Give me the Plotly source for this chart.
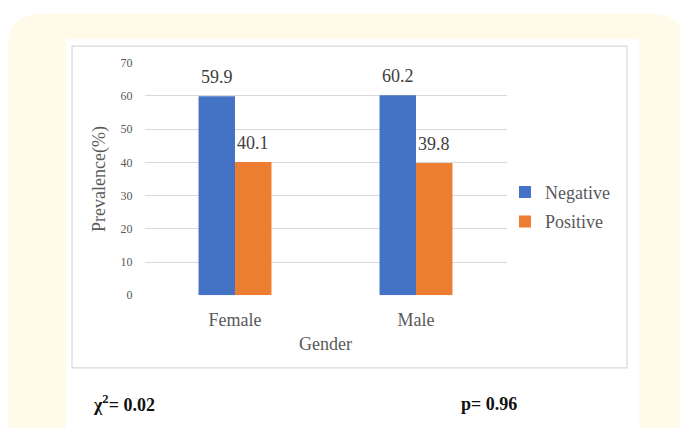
import plotly.graph_objects as go

# Prevalence (%) by gender and test result
genders = ["Female", "Male"]
negative = [59.9, 60.2]
positive = [40.1, 39.8]
series_names = ["Negative", "Positive"]
series_colors = ["#4472C4", "#ED7D31"]
y_ticks = [0, 10, 20, 30, 40, 50, 60, 70]
chi_text = "χ<sup>2</sup>= 0.02"
p_text = "p= 0.96"

W, H = 680, 428
FONT = "Liberation Serif"
GREY = "#595959"


def px(x):
    return x / W


def py(y):
    return 1 - y / H


def rounded_rect(x0, y0, x1, y1, r):
    """SVG path (paper coords) of a rectangle with rounded corners, from pixel coords."""
    pts = [
        f"M{px(x0 + r)},{py(y0)}",
        f"L{px(x1 - r)},{py(y0)}",
        f"Q{px(x1)},{py(y0)} {px(x1)},{py(y0 + r)}",
        f"L{px(x1)},{py(y1 - r)}",
        f"Q{px(x1)},{py(y1)} {px(x1 - r)},{py(y1)}",
        f"L{px(x0 + r)},{py(y1)}",
        f"Q{px(x0)},{py(y1)} {px(x0)},{py(y1 - r)}",
        f"L{px(x0)},{py(y0 + r)}",
        f"Q{px(x0)},{py(y0)} {px(x0 + r)},{py(y0)}",
        "Z",
    ]
    return " ".join(pts)


# plot-area geometry (pixels)
plot_l, plot_r = 144.5, 506.5
plot_t, plot_b = 57.5, 298.0
bargap = 0.597
cat_px = (plot_r - plot_l) / len(genders)
bar_px = cat_px * (1 - bargap) / 2

fig = go.Figure()
for name, vals, col in zip(series_names, [negative, positive], series_colors):
    fig.add_trace(go.Bar(
        x=genders, y=vals, name=name, marker=dict(color=col, line=dict(width=0)),
        legendgroup=name,
    ))

# value labels above each bar
annotations = []
for i, vals in enumerate([negative, positive]):
    for g, v in zip(genders, vals):
        annotations.append(dict(
            x=g, y=v, xref="x", yref="y", text=f"{v:.1f}", showarrow=False,
            xshift=(i - 0.5) * bar_px, yshift=7, yanchor="bottom",
            font=dict(family=FONT, size=18, color="#404040"),
        ))

annotations += [
    dict(x=px(91), y=py(410), xref="paper", yref="paper", text=f"<b>{chi_text}</b>",
         showarrow=False, xanchor="left", yanchor="middle",
         font=dict(family=FONT, size=18, color="#111111")),
    dict(x=px(459), y=py(410), xref="paper", yref="paper", text=f"<b>{p_text}</b>",
         showarrow=False, xanchor="left", yanchor="middle",
         font=dict(family=FONT, size=18, color="#111111")),
]

shapes = [
    # cream panel
    dict(type="path", path=rounded_rect(8, 7, 684, 470, 34), xref="paper", yref="paper",
         fillcolor="#FFFBE8", line=dict(width=0), layer="below"),
    # white card
    dict(type="rect", x0=px(66), x1=px(639), y0=py(33), y1=py(440), xref="paper", yref="paper",
         fillcolor="#FFFFFF", line=dict(width=0), layer="below"),
    # chart frame
    dict(type="rect", x0=px(72), x1=px(627), y0=py(40.5), y1=py(373), xref="paper", yref="paper",
         fillcolor="rgba(0,0,0,0)", line=dict(width=1.2, color="#D9D9D9"), layer="below"),
]

fig.update_layout(
    width=W, height=H,
    margin=dict(l=0, r=0, t=0, b=0),
    paper_bgcolor="#FFFFFF",
    plot_bgcolor="rgba(0,0,0,0)",
    barmode="group", bargap=bargap, bargroupgap=0,
    font=dict(family=FONT, color=GREY),
    showlegend=True,
    legend=dict(
        x=px(505), y=py(172.5), xanchor="left", yanchor="top",
        font=dict(family=FONT, size=18, color=GREY),
        bgcolor="rgba(0,0,0,0)", itemwidth=30,
        traceorder="grouped", tracegroupgap=3,
    ),
    xaxis=dict(
        domain=[px(plot_l), px(plot_r)], anchor="y",
        showgrid=False, zeroline=False, showline=False, ticks="",
        tickfont=dict(family=FONT, size=18, color=GREY),
        ticklabelstandoff=12,
        title=dict(text="Gender", font=dict(family=FONT, size=18, color=GREY), standoff=8),
    ),
    yaxis=dict(
        domain=[py(plot_b), py(plot_t)], anchor="x",
        range=[0, 70], tickvals=y_ticks,
        showgrid=True, gridcolor="#D9D9D9", gridwidth=1,
        zeroline=False, showline=False, ticks="",
        tickfont=dict(family=FONT, size=12, color=GREY),
        ticklabelstandoff=11,
        title=dict(text="Prevalence(%)", font=dict(family=FONT, size=18, color=GREY), standoff=10),
    ),
    annotations=annotations,
    shapes=shapes,
)

fig.write_html("out.html")
